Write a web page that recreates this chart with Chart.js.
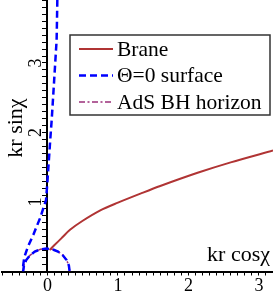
<!DOCTYPE html>
<html><head><meta charset="utf-8">
<script src="https://cdn.jsdelivr.net/npm/chart.js@4/dist/chart.umd.min.js"></script>
<style>html,body{margin:0;padding:0;background:#fff;overflow:hidden;} canvas{display:block;}</style>
</head><body>
<canvas id="c" width="273" height="292"></canvas>
<script>
// ---- data ----
const seriesLabels = ['Brane', 'Θ=0 surface', 'AdS BH horizon'];

const braneX = [0.03, 0.10, 0.20, 0.32, 0.50, 0.75, 1.00, 1.32, 1.60, 2.13, 2.60, 3.20];
const braneY = [0.31, 0.38, 0.48, 0.60, 0.73, 0.88, 0.99, 1.12, 1.23, 1.42, 1.57, 1.74];

const thetaX = [0.14, 0.135, 0.13, 0.095, 0.06, 0.04, 0.02, 0.00, -0.02, -0.10, -0.20, -0.28, -0.33, -0.345, -0.345,
                -0.334, -0.301, -0.248, -0.18, -0.10, -0.015, 0.07, 0.15, 0.218, 0.271, 0.304, 0.315];
const thetaY = [3.91, 3.60, 3.33, 2.75, 2.18, 1.90, 1.60, 1.30, 1.03, 0.78, 0.53, 0.35, 0.20, 0.08, 0.00,
                0.085, 0.165, 0.233, 0.286, 0.319, 0.33, 0.319, 0.286, 0.233, 0.165, 0.085, 0.00];

const horizonX = [0.315, 0.304, 0.271, 0.218, 0.15, 0.07, -0.015, -0.10, -0.18, -0.248, -0.301, -0.334, -0.345];
const horizonY = [0.00, 0.085, 0.165, 0.233, 0.286, 0.319, 0.33, 0.319, 0.286, 0.233, 0.165, 0.085, 0.00];

const xTickLabels = [0, 1, 2, 3];
const yTickLabels = [1, 2, 3];
const axisTitles = ['kr cosχ', 'kr sinχ'];
const xRange = [-0.645, 3.2];
const yRange = [0, 3.906];

const toPts = (xs, ys) => xs.map((x, i) => ({x: x, y: ys[i]}));
const SERIF = "'Liberation Serif', 'Times New Roman', serif";

const overlayPlugin = {
  id: 'overlay',
  afterDraw(chart) {
    const ctx = chart.ctx;
    const xs = chart.scales.x, ys = chart.scales.y;
    ctx.save();
    // y tick labels (rotated)
    ctx.fillStyle = '#000';
    ctx.font = '18px ' + SERIF;
    ctx.textAlign = 'center';
    ctx.textBaseline = 'alphabetic';
    const ax = xs.getPixelForValue(0);
    yTickLabels.forEach(v => {
      const py = ys.getPixelForValue(v);
      ctx.save();
      ctx.translate(ax - 6, py);
      ctx.rotate(-Math.PI / 2);
      ctx.fillText(String(v), 0, 0);
      ctx.restore();
    });
    // axis titles
    ctx.font = '22px ' + SERIF;
    ctx.textAlign = 'right';
    ctx.fillText(axisTitles[0], 270, 261);
    ctx.save();
    ctx.translate(22, 128);
    ctx.rotate(-Math.PI / 2);
    ctx.textAlign = 'center';
    ctx.fillText(axisTitles[1], 0, 0);
    ctx.restore();
    // legend
    const bx = 70, by = 35, bw = 200, bh = 80;
    ctx.fillStyle = '#fff';
    ctx.fillRect(bx, by, bw, bh);
    ctx.strokeStyle = '#333';
    ctx.lineWidth = 1.5;
    ctx.strokeRect(bx, by, bw, bh);
    chart.data.datasets.forEach((ds, i) => {
      const ry = 49 + i * 26.5;
      ctx.save();
      ctx.strokeStyle = ds.borderColor;
      ctx.lineWidth = ds.borderWidth;
      ctx.setLineDash(ds.borderDash || []);
      ctx.beginPath();
      ctx.moveTo(79, ry);
      ctx.lineTo(113, ry);
      ctx.stroke();
      ctx.restore();
      ctx.fillStyle = '#000';
      ctx.font = '21.5px ' + SERIF;
      ctx.textAlign = 'left';
      ctx.textBaseline = 'middle';
      ctx.fillText(ds.label, 117, ry + 1);
    });
    ctx.restore();
  }
};

new Chart(document.getElementById('c'), {
  type: 'scatter',
  data: {
    datasets: [
      {label: seriesLabels[0], data: toPts(braneX, braneY), showLine: true, borderColor: '#b03434', borderWidth: 2, pointRadius: 0, tension: 0.3},
      {label: seriesLabels[1], data: toPts(thetaX, thetaY), showLine: true, borderColor: '#0000ff', borderWidth: 2.5, borderDash: [7, 4], pointRadius: 0, tension: 0},
      {label: seriesLabels[2], data: toPts(horizonX, horizonY), showLine: true, borderColor: '#9b2f7a', borderWidth: 1.5, borderDash: [6, 2.5, 2, 2.5], pointRadius: 0, tension: 0}
    ]
  },
  options: {
    responsive: false,
    devicePixelRatio: 1,
    animation: false,
    layout: {padding: {left: 2, right: 0, top: 0, bottom: 0}},
    plugins: {legend: {display: false}, tooltip: {enabled: false}},
    scales: {
      x: {
        type: 'linear', min: xRange[0], max: xRange[1], position: 'bottom',
        border: {display: true, color: '#000', width: 2},
        grid: {display: true, drawOnChartArea: false, drawTicks: true, tickLength: 4, tickColor: '#000', tickWidth: 1},
        ticks: {
          stepSize: 0.1, autoSkip: false, maxRotation: 0, minRotation: 0, padding: 0, color: '#000',
          font: {family: SERIF, size: 18},
          callback: (v) => { const r = Math.round(v); return (Math.abs(v - r) < 1e-6 && xTickLabels.includes(r)) ? String(r) : ''; }
        },
        afterFit: (s) => { s.height = 20.5; }
      },
      y: {
        type: 'linear', min: yRange[0], max: yRange[1], position: {x: 0},
        border: {display: true, color: '#000', width: 2},
        grid: {display: true, drawOnChartArea: false, drawTicks: true, tickLength: 4, tickColor: '#000', tickWidth: 1},
        ticks: {display: false, stepSize: 0.1},
        afterFit: (s) => { s.width = 0; }
      }
    }
  },
  plugins: [overlayPlugin]
});
</script>
</body></html>
